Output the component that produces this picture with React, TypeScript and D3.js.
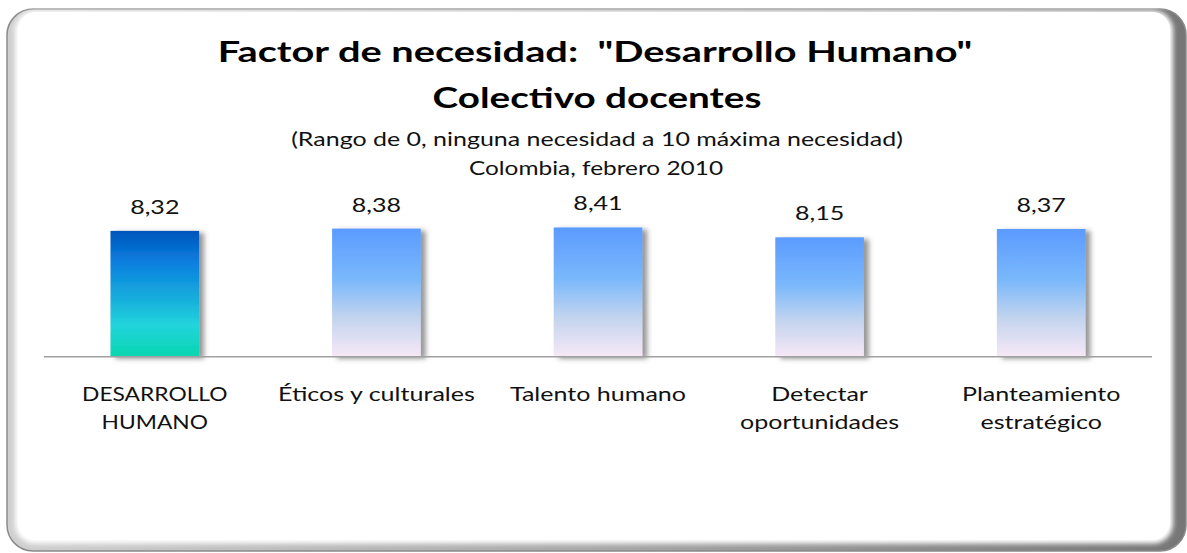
import React from "react";
import * as d3 from "d3";

const categories: string[][] = [
  ["DESARROLLO", "HUMANO"],
  ["Éticos y culturales"],
  ["Talento humano"],
  ["Detectar", "oportunidades"],
  ["Planteamiento", "estratégico"],
];
const values: number[] = [8.32, 8.38, 8.41, 8.15, 8.37];
const valueLabels: string[] = ["8,32", "8,38", "8,41", "8,15", "8,37"];
const titleLines: string[] = ['Factor de necesidad:  "Desarrollo Humano"', "Colectivo docentes"];
const subtitleLines: string[] = ["(Rango de 0, ninguna necesidad a 10 máxima necesidad)", "Colombia, febrero 2010"];
const yDomain: [number, number] = [5, 9];

const W = 1187;
const H = 553;
const FONT = "Lato, 'Open Sans', sans-serif";
const SX = 1.32;

function SText(props: {
  x: number;
  y: number;
  size: number;
  bold?: boolean;
  sx?: number;
  lines: string[];
  lh?: number;
  fill?: string;
}) {
  const { x, y, size, bold, sx = SX, lines, lh = 28, fill = "#111" } = props;
  return (
    <g transform={`translate(${x},${y}) scale(${sx},1)`}>
      <text
        x={0}
        y={0}
        textAnchor="middle"
        fontSize={size}
        fontWeight={bold ? "bold" : "normal"}
        fill={fill}
        style={{ whiteSpace: "pre" }}
      >
        {lines.map((l, j) => (
          <tspan key={j} x={0} dy={j === 0 ? 0 : lh}>
            {l}
          </tspan>
        ))}
      </text>
    </g>
  );
}

export default function App() {
  const x = d3
    .scaleBand<number>()
    .domain(values.map((_, i) => i))
    .range([44, 1152])
    .paddingInner(0.6)
    .paddingOuter(0.3);
  const y = d3.scaleLinear().domain(yDomain).range([356.7, 205.1]);
  const base = y(yDomain[0]);

  return (
    <svg
      width={W}
      height={H}
      style={{ position: "absolute", left: 0, top: 0 }}
      fontFamily={FONT}
    >
      <defs>
        <linearGradient id="frameGrad" x1="0" x2="1" y1="0" y2="0">
          <stop offset="0" stopColor="#d0d0d0" />
          <stop offset="0.5" stopColor="#a8a8a8" />
          <stop offset="1" stopColor="#767676" />
        </linearGradient>
        <filter id="innerBlur" x="-5%" y="-5%" width="110%" height="110%">
          <feGaussianBlur stdDeviation="2.5" />
        </filter>
        <linearGradient id="g0" x1="0" x2="0" y1="0" y2="1">
          <stop offset="0" stopColor="#0055bb" />
          <stop offset="0.25" stopColor="#0a7fdf" />
          <stop offset="0.55" stopColor="#18b0dc" />
          <stop offset="0.75" stopColor="#22d4dc" />
          <stop offset="1" stopColor="#08d6b0" />
        </linearGradient>
        <linearGradient id="g1" x1="0" x2="0" y1="0" y2="1">
          <stop offset="0" stopColor="#5b9bff" />
          <stop offset="0.4" stopColor="#7ab8fb" />
          <stop offset="0.7" stopColor="#c3d4ee" />
          <stop offset="1" stopColor="#f7e8f6" />
        </linearGradient>
        <filter id="barShadow" x="-20%" y="-20%" width="150%" height="140%">
          <feDropShadow dx="5" dy="2" stdDeviation="2.5" floodColor="#444" floodOpacity="0.55" />
        </filter>
      </defs>

      {/* frame */}
      <rect x={7} y={9} width={1179} height={542} rx={26} fill="url(#frameGrad)" stroke="#8a8a8a" strokeWidth={1.5} />
      <rect x={15} y={10.5} width={1158} height={533} rx={20} fill="#ffffff" filter="url(#innerBlur)" />
      <rect x={18} y={12} width={1152} height={528} rx={18} fill="#ffffff" />

      {/* titles */}
      <SText x={595} y={62} size={28} bold sx={1.42} lines={[titleLines[0]]} fill="#000" />
      <SText x={597} y={108} size={28} bold sx={1.38} lines={[titleLines[1]]} fill="#000" />
      <SText x={597} y={146} size={18.5} sx={1.35} lines={[subtitleLines[0]]} />
      <SText x={596} y={175} size={18.5} lines={[subtitleLines[1]]} />

      {/* bars */}
      {values.map((v, i) => (
        <rect
          key={i}
          x={x(i)!}
          y={y(v)}
          width={x.bandwidth()}
          height={base - y(v)}
          fill={i === 0 ? "url(#g0)" : "url(#g1)"}
          filter="url(#barShadow)"
        />
      ))}

      {/* baseline */}
      <line x1={44} x2={1152} y1={base} y2={base} stroke="#a0a0a0" strokeWidth={1.5} />

      {/* value labels */}
      {values.map((v, i) => (
        <SText key={i} x={x(i)! + x.bandwidth() / 2} y={y(v) - 17} size={19} lines={[valueLabels[i]]} />
      ))}

      {/* category labels */}
      {categories.map((lines, i) => (
        <SText
          key={i}
          x={x(i)! + x.bandwidth() / 2}
          y={401}
          size={19}
          sx={i === 0 ? 1.2 : SX}
          lines={lines}
          lh={28}
        />
      ))}
    </svg>
  );
}
